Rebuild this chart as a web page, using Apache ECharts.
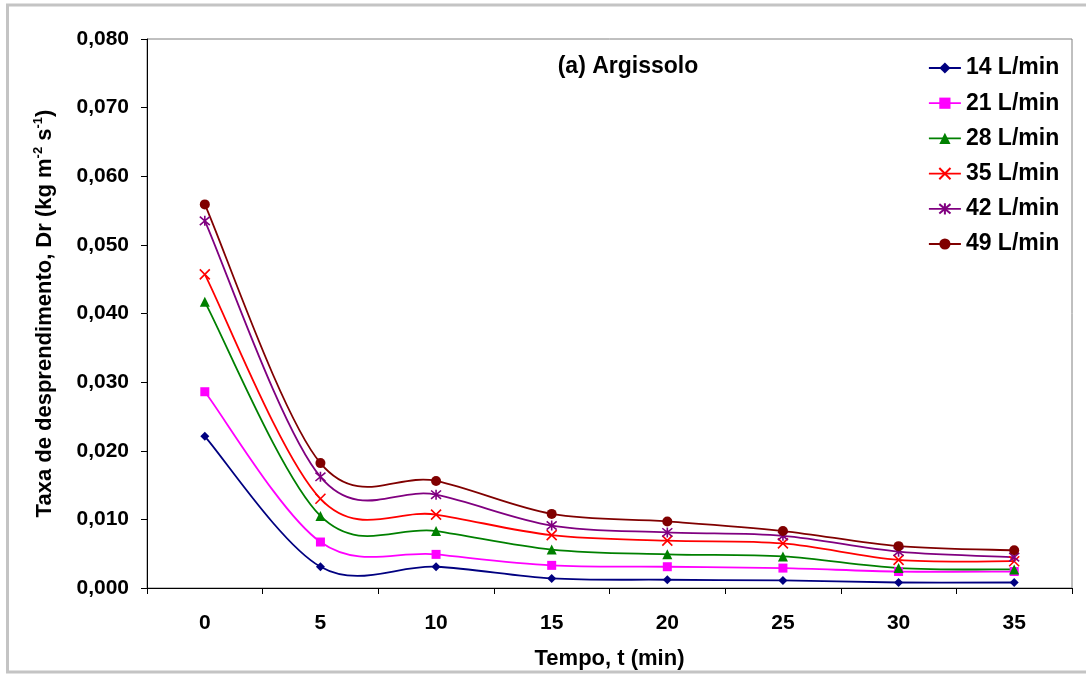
<!DOCTYPE html>
<html>
<head>
<meta charset="utf-8">
<script src="https://cdn.jsdelivr.net/npm/echarts@6/dist/echarts.min.js"></script>
<style>
html,body{margin:0;padding:0;background:#fff;}
#chart{width:1086px;height:677px;}
</style>
</head>
<body>
<div id="chart"></div>
<script>
var categories = ['0', '5', '10', '15', '20', '25', '30', '35'];
var seriesNames = ['14 L/min', '21 L/min', '28 L/min', '35 L/min', '42 L/min', '49 L/min'];
var s14 = [0.0221, 0.0031, 0.0031, 0.0014, 0.0012, 0.0011, 0.0008, 0.0008];
var s21 = [0.0286, 0.0067, 0.0049, 0.0033, 0.0031, 0.0029, 0.0024, 0.0024];
var s28 = [0.0417, 0.0105, 0.0083, 0.0056, 0.0049, 0.0046, 0.0029, 0.0027];
var s35 = [0.0457, 0.0130, 0.0107, 0.0077, 0.0069, 0.0065, 0.0041, 0.0039];
var s42 = [0.0535, 0.0162, 0.0136, 0.0091, 0.0081, 0.0076, 0.0053, 0.0045];
var s49 = [0.0559, 0.0182, 0.0156, 0.0108, 0.0097, 0.0083, 0.0061, 0.0055];
var yTicks = [0, 0.08, 0.01];

var FONT = '"Liberation Sans", Arial, sans-serif';
var colors = ['#000080', '#FF00FF', '#008000', '#FF0000', '#800080', '#800000'];
var symbols = [
  'diamond',
  'rect',
  'triangle',
  'path://M0,0L10,10M10,0L0,10',
  'path://M0,0L10,10M10,0L0,10M5,-1L5,11',
  'circle'
];
var sizes = [9, 9, 10, 10, 10, 10];
var allData = [s14, s21, s28, s35, s42, s49];
var LINE_W = 1.8;

// Excel-like smoothed curve (Catmull-Rom Bezier) drawn through the axes' own scales
function curveSeries(values, color, idx) {
  return {
    name: 'curve' + idx,
    type: 'custom',
    coordinateSystem: 'cartesian2d',
    data: [[0, values[0]]],
    silent: true,
    clip: false,
    z: 2,
    renderItem: function (params, api) {
      var pts = values.map(function (v, i) { return api.coord([i, v]); });
      var children = [];
      var k = 1 / 6;
      for (var i = 0; i < pts.length - 1; i++) {
        var p0 = pts[i - 1] || pts[i];
        var p1 = pts[i];
        var p2 = pts[i + 1];
        var p3 = pts[i + 2] || pts[i + 1];
        children.push({
          type: 'bezierCurve',
          shape: {
            x1: p1[0], y1: p1[1],
            cpx1: p1[0] + (p2[0] - p0[0]) * k, cpy1: p1[1] + (p2[1] - p0[1]) * k,
            cpx2: p2[0] - (p3[0] - p1[0]) * k, cpy2: p2[1] - (p3[1] - p1[1]) * k,
            x2: p2[0], y2: p2[1]
          },
          style: { fill: null, stroke: color, lineWidth: LINE_W }
        });
      }
      return { type: 'group', children: children };
    }
  };
}

var series = allData.map(function (d, i) {
  var isStroke = (i === 3 || i === 4);
  return {
    name: seriesNames[i],
    type: 'line',
    data: d,
    symbol: symbols[i],
    symbolSize: sizes[i],
    showAllSymbol: true,
    lineStyle: { color: colors[i], width: LINE_W, opacity: 0 },
    itemStyle: isStroke
      ? { color: 'rgba(0,0,0,0)', borderColor: colors[i], borderWidth: 1.6 }
      : { color: colors[i], borderWidth: 0 },
    emphasis: { disabled: true },
    z: 3 + i
  };
});
allData.forEach(function (d, i) { series.push(curveSeries(d, colors[i], i)); });

var legendData = seriesNames.map(function (n, i) {
  return { name: n, lineStyle: { color: colors[i], width: LINE_W, opacity: 1 } };
});

var chart = echarts.init(document.getElementById('chart'), null, { renderer: 'canvas' });
chart.setOption({
  animation: false,
  backgroundColor: '#ffffff',
  title: {
    text: '(a) Argissolo',
    left: 623,
    top: 50,
    textAlign: 'center',
    textStyle: { fontFamily: FONT, fontWeight: 'bold', fontSize: 23, color: '#000' }
  },
  legend: {
    orient: 'vertical',
    left: 928,
    top: 56,
    padding: 0,
    itemWidth: 32,
    itemHeight: 14,
    itemGap: 11.2,
    data: legendData,
    textStyle: { fontFamily: FONT, fontWeight: 'bold', fontSize: 23, color: '#000', lineHeight: 24 }
  },
  grid: {
    left: 147, right: 14, top: 39, bottom: 89,
    show: true, borderColor: '#808080', borderWidth: 1, backgroundColor: 'transparent'
  },
  xAxis: {
    type: 'category',
    data: categories,
    boundaryGap: true,
    name: 'Tempo, t (min)',
    nameLocation: 'middle',
    nameGap: 60,
    nameTextStyle: { fontFamily: FONT, fontWeight: 'bold', fontSize: 22, color: '#000' },
    axisLine: { lineStyle: { color: '#000', width: 1 } },
    axisTick: { show: true, length: 6, inside: false, lineStyle: { color: '#000' } },
    axisLabel: { interval: 0, margin: 25, fontFamily: FONT, fontWeight: 'bold', fontSize: 21, color: '#000' },
    splitLine: { show: false }
  },
  yAxis: {
    type: 'value',
    min: yTicks[0],
    max: yTicks[1],
    interval: yTicks[2],
    name: 'Taxa de desprendimento, Dr (kg m{sup|-2} s{sup|-1})',
    nameLocation: 'middle',
    nameRotate: 90,
    nameGap: 90,
    nameTextStyle: {
      fontFamily: FONT, fontWeight: 'bold', fontSize: 22, color: '#000',
      rich: {
        sup: { fontFamily: FONT, fontWeight: 'bold', fontSize: 13, color: '#000', padding: [0, 0, 12, 0] }
      }
    },
    axisLine: { show: true, lineStyle: { color: '#000', width: 1 } },
    axisTick: { show: true, length: 6, lineStyle: { color: '#000' } },
    axisLabel: {
      margin: 18, fontFamily: FONT, fontWeight: 'bold', fontSize: 21, color: '#000',
      formatter: function (v) { return v.toFixed(3).replace('.', ','); }
    },
    splitLine: { show: false }
  },
  graphic: [{
    type: 'rect',
    shape: { x: 7.5, y: 5, width: 1100, height: 667 },
    style: { fill: 'none', stroke: '#c4c4c4', lineWidth: 3 },
    silent: true, z: -1
  }],
  series: series
});
</script>
</body>
</html>
